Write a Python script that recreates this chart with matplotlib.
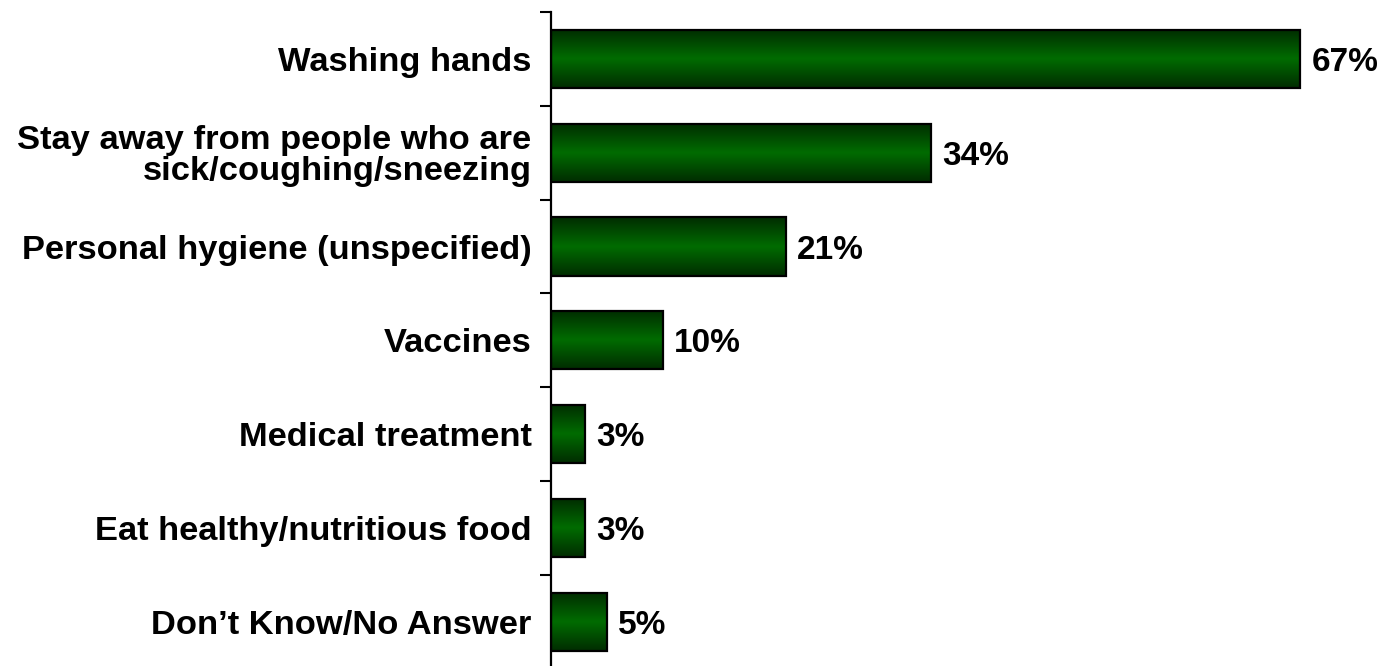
import numpy as np
import matplotlib.pyplot as plt
from matplotlib.colors import LinearSegmentedColormap

categories = ["Washing hands",
              "Stay away from people who are\nsick/coughing/sneezing",
              "Personal hygiene (unspecified)",
              "Vaccines",
              "Medical treatment",
              "Eat healthy/nutritious food",
              "Don\u2019t Know/No Answer"]
values = [67, 34, 21, 10, 3, 3, 5]

plt.rcParams['font.family'] = ['Liberation Sans', 'DejaVu Sans']
plt.rcParams['font.weight'] = 'bold'

fig = plt.figure(figsize=(13.83, 6.66), dpi=100)
ax = fig.add_axes([551/1383, 1 - 668.6/666, 1 - 551/1383, (668.6 - 12.1)/666])

n = len(values)
y = np.arange(n)
h = 0.62
cmap = LinearSegmentedColormap.from_list("g", ["#002c00", "#006c00", "#002c00"])
grad = np.linspace(0, 1, 256).reshape(-1, 1)

for yi, v in zip(y, values):
    ax.imshow(grad, cmap=cmap, aspect='auto', extent=(0, v, yi + h/2, yi - h/2),
              interpolation='bicubic', zorder=2)
    ax.barh(yi, v, height=h, facecolor='none', edgecolor='black', linewidth=1.6, zorder=3)
    ax.text(v + 1.0, yi, f"{v}%", va='center_baseline', ha='left', fontsize=24, fontweight='bold')

ax.set_xlim(0, 74.4)
ax.set_ylim(n - 0.5, -0.5)
ax.set_yticks(y)
ax.set_yticklabels(categories, fontsize=24.8, fontweight='bold', linespacing=0.98)
ax.set_yticks(np.arange(n + 1) - 0.5, minor=True)
ax.tick_params(axis='y', which='major', length=0, pad=14)
ax.tick_params(axis='y', which='minor', length=8, width=1.5)
ax.set_xticks([])
for s in ['top', 'right', 'bottom']:
    ax.spines[s].set_visible(False)
ax.spines['left'].set_linewidth(1.6)

fig.savefig("out.png", dpi=100)
